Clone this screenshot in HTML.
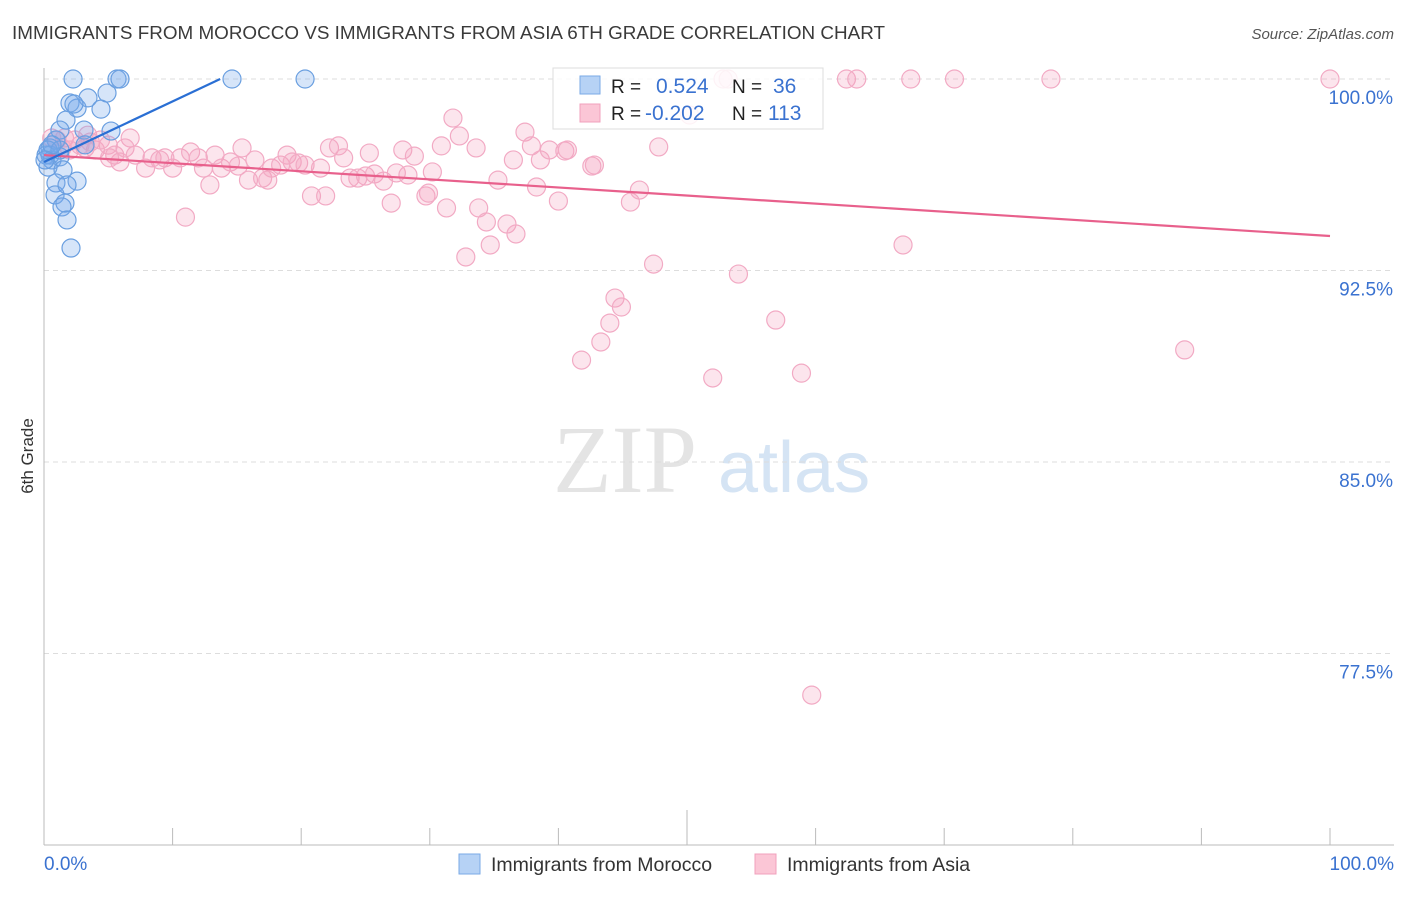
<!DOCTYPE html>
<html><head><meta charset="utf-8"><style>
body{margin:0;background:#fff;font-family:"Liberation Sans",sans-serif}
</style></head><body>
<svg width="1406" height="892" xmlns="http://www.w3.org/2000/svg" font-family="Liberation Sans, sans-serif">
<text x="12" y="39" font-size="18" fill="#3a3a3a" textLength="873" lengthAdjust="spacingAndGlyphs">IMMIGRANTS FROM MOROCCO VS IMMIGRANTS FROM ASIA 6TH GRADE CORRELATION CHART</text>
<text x="1394" y="39" font-size="15" fill="#555" font-style="italic" text-anchor="end">Source: ZipAtlas.com</text>
<g>
<text x="553" y="492" font-size="96" font-family="Liberation Serif, serif" fill="#e4e4e4">ZIP</text>
<text x="718" y="492" font-size="72" fill="#d5e4f4">atlas</text>
</g>
<g id="grid"></g>
<g id="axes"></g>
<text transform="translate(33,456) rotate(-90)" font-size="17" fill="#333" text-anchor="middle">6th Grade</text>
<g id="pts"></g>
<g id="trends"></g>
<g>
<rect x="553" y="68" width="270" height="61" fill="#fff" fill-opacity="0.85" stroke="#ddd"/>
<rect x="580" y="76" width="20" height="18" fill="#b6d2f5" stroke="#7aaae6"/>
<rect x="580" y="104" width="20" height="18" fill="#fbc6d6" stroke="#f0a0bc"/>
<text x="611" y="93" font-size="19" fill="#222">R =</text>
<text x="656" y="93" font-size="21" fill="#3a72d0">0.524</text>
<text x="732" y="93" font-size="19" fill="#222">N =</text>
<text x="773" y="93" font-size="21" fill="#3a72d0">36</text>
<text x="611" y="120" font-size="19" fill="#222">R =</text>
<text x="645" y="120" font-size="21" fill="#3a72d0">-0.202</text>
<text x="732" y="120" font-size="19" fill="#222">N =</text>
<text x="768" y="120" font-size="21" fill="#3a72d0">113</text>
</g>
<g>
<rect x="459" y="854" width="21" height="20" fill="#b6d2f5" stroke="#7aaae6"/>
<text x="491" y="871" font-size="19.5" fill="#333">Immigrants from Morocco</text>
<rect x="755" y="854" width="21" height="20" fill="#fbc6d6" stroke="#f0a0bc"/>
<text x="787" y="871" font-size="19.5" fill="#333">Immigrants from Asia</text>
</g>
</svg>
<script>
const yTicks=[100,92.5,85,77.5];
const yTickLabels=["100.0%","92.5%","85.0%","77.5%"];
const xLabels=["0.0%","100.0%"];
const moroccoX=[2.26,5.68,5.91,14.62,20.3,2.02,2.57,3.42,4.9,4.43,1.71,2.33,3.11,5.21,1.24,0.93,0.47,0.47,0.16,0.62,1.24,0.31,1.48,0.93,2.57,0.86,1.79,1.63,1.4,1.79,2.1,0.31,1.24,3.19,0.62,0.08];
const moroccoY=[100,100,100,100,100,99.06,98.86,99.26,99.45,98.82,98.39,99.02,98.0,97.96,98.0,97.61,97.3,97.02,97.02,96.83,96.95,96.55,96.44,95.93,96.0,95.46,95.85,95.14,94.99,94.48,93.38,97.22,97.22,97.42,97.42,96.83];
const asiaX=[1.0,1.6,2.4,3.2,4.0,5.0,5.5,5.9,6.7,6.3,7.9,8.4,9.0,9.4,10.0,10.6,11.0,11.4,12.0,12.4,12.9,13.3,13.8,14.5,15.1,15.4,15.9,16.4,17.0,17.4,17.7,18.4,18.9,19.3,19.8,20.3,20.8,21.5,21.9,22.2,22.9,23.3,23.8,24.4,25.0,25.3,25.7,26.4,27.0,27.4,27.9,28.3,28.8,29.7,29.9,30.2,30.9,31.3,31.8,32.3,32.8,33.6,33.8,34.4,34.7,35.3,36.0,36.5,36.7,37.4,37.9,38.3,38.6,39.3,40.0,40.5,40.7,41.8,42.6,42.8,43.3,44.0,44.4,44.9,45.6,46.3,47.4,47.8,50.2,52.0,52.8,53.2,54.0,56.9,58.9,59.7,62.4,63.2,67.4,70.8,78.3,88.7,100,66.8,2.0,2.8,3.6,4.4,1.4,7.1,3.4,0.6,5.1];
const asiaY=[97.61,97.69,97.61,97.30,97.22,97.41,97.02,96.75,97.69,97.30,96.51,96.91,96.83,96.91,96.51,96.91,94.59,97.14,96.91,96.51,95.85,97.02,96.51,96.75,96.59,97.30,96.04,96.83,96.12,96.04,96.51,96.63,97.02,96.75,96.71,96.63,95.42,96.51,95.42,97.30,97.38,96.91,96.12,96.12,96.20,97.10,96.28,96.0,95.14,96.32,97.22,96.24,96.98,95.42,95.53,96.36,97.38,94.95,98.47,97.77,93.03,97.30,94.95,94.40,93.50,96.04,94.32,96.83,93.93,97.92,97.38,95.77,96.83,97.22,95.22,97.18,97.22,88.99,96.59,96.63,89.70,90.44,91.42,91.07,95.18,95.65,92.75,97.34,98.59,88.29,100,100,92.36,90.56,88.48,75.87,100,100,100,100,100,89.39,100,93.50,97.22,97.41,97.53,97.61,97.30,97.02,97.80,97.69,96.91];
const moroccoTrend=[[0,96.75],[13.7,100]];
const asiaTrend=[[0,97.02],[100,93.85]];
const NS="http://www.w3.org/2000/svg";
const sx=v=>44+v*12.86;
const sy=v=>79+(100-v)*25.533;
function mk(t,a,p){const e=document.createElementNS(NS,t);for(const k in a)e.setAttribute(k,a[k]);p.appendChild(e);return e;}
const grid=document.getElementById('grid'),axes=document.getElementById('axes');
yTicks.forEach((v,i)=>{
 const l=mk('line',{x1:44,x2:1394,y1:sy(v),y2:sy(v),stroke:'#ddd','stroke-dasharray':'5,4'},grid);
 
 
 const t=mk('text',{x:1393,y:sy(v)+25,'font-size':19,fill:'#3a72d0','text-anchor':'end'},axes);
 t.textContent=yTickLabels[i];
 
 
});
mk('line',{x1:44,x2:44,y1:68,y2:845,stroke:'#bbb'},axes);
mk('line',{x1:44,x2:1394,y1:845,y2:845,stroke:'#bbb'},axes);
for(let i=0;i<=10;i++){
 const x=sx(i*10);
 const tk=mk('line',{x1:x,x2:x,y1:845,y2:i==5?810:828,stroke:'#bbb'},axes);
 
 
}
[[0,'start'],[100,'end']].forEach((d,i)=>{
 const t=mk('text',{x:i?1394:44,y:870,'font-size':19,fill:'#3a72d0','text-anchor':d[1]},axes);
 t.textContent=xLabels[i];
 
 
});
const pts=document.getElementById('pts');
asiaX.forEach((v,i)=>{
 const c=mk('circle',{cx:sx(v),cy:sy(asiaY[i]),r:9,fill:'rgba(244,160,190,0.28)',stroke:'#f2aac4','stroke-width':1.2},pts);
 
 
});
moroccoX.forEach((v,i)=>{
 const c=mk('circle',{cx:sx(v),cy:sy(moroccoY[i]),r:9,fill:'rgba(120,170,235,0.3)',stroke:'#6a9fe0','stroke-width':1.2},pts);
 
 
});
const tr=document.getElementById('trends');
const a=mk('line',{x1:sx(asiaTrend[0][0]),y1:sy(asiaTrend[0][1]),x2:sx(asiaTrend[1][0]),y2:sy(asiaTrend[1][1]),stroke:'#e8608c','stroke-width':2.2},tr);


const m=mk('line',{x1:sx(moroccoTrend[0][0]),y1:sy(moroccoTrend[0][1]),x2:sx(moroccoTrend[1][0]),y2:sy(moroccoTrend[1][1]),stroke:'#2a6fd4','stroke-width':2.2},tr);


</script>
</body></html>
